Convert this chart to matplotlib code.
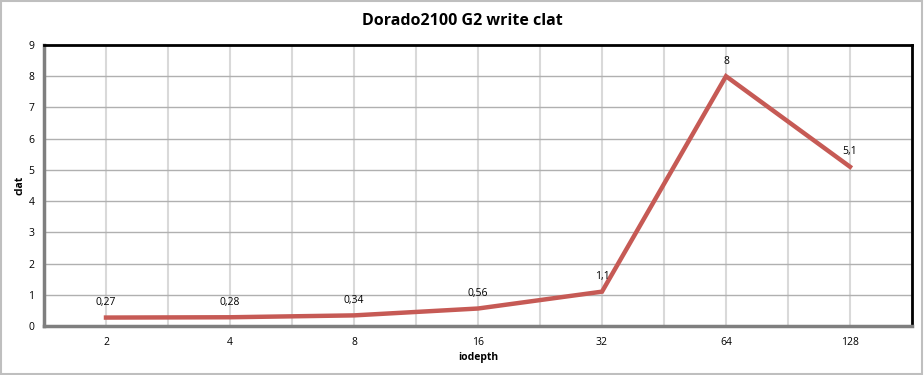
import numpy as np
import matplotlib
matplotlib.use("Agg")
import matplotlib.pyplot as plt

iodepth = ["2", "4", "8", "16", "32", "64", "128"]
clat = [0.27, 0.28, 0.34, 0.56, 1.1, 8, 5.1]
labels = ["0,27", "0,28", "0,34", "0,56", "1,1", "8", "5,1"]

plt.rcParams['font.family'] = ['Open Sans', 'DejaVu Sans']

fig = plt.figure(figsize=(9.24, 3.75), dpi=100)
ax = fig.add_axes([44/924, 49/375, 868/924, 281/375])

x = np.arange(len(iodepth))
ax.plot(x, clat, color='#c65a55', lw=3.2, solid_joinstyle='miter', zorder=3)
for xi, yi, lab in zip(x, clat, labels):
    ax.annotate(lab, (xi, yi), xytext=(0, 7), textcoords='offset points',
                ha='center', va='bottom', fontsize=7.5)

ax.set_xlim(-0.5, len(iodepth) - 0.5)
ax.set_ylim(0, 9)
ax.set_xticks(x)
ax.set_xticklabels(iodepth, fontsize=7.5)
ax.set_yticks(range(10))
ax.set_yticklabels([str(i) for i in range(10)], fontsize=7.5)
ax.xaxis.remove_overlapping_locs = False
ax.set_xticks(np.arange(-0.5, len(iodepth), 0.5), minor=True)
ax.tick_params(which='both', length=0)
ax.tick_params(axis='x', pad=8)
ax.tick_params(axis='y', pad=7)
ax.grid(axis='x', which='minor', color='#d9d9d9', lw=1.5)
ax.grid(axis='y', which='major', color='#b0b0b0', lw=1)

for s in ['top', 'right']:
    ax.spines[s].set_color('black')
    ax.spines[s].set_linewidth(2)
for s in ['left', 'bottom']:
    ax.spines[s].set_color('#7f7f7f')
    ax.spines[s].set_linewidth(2.5)

ax.set_xlabel("iodepth", fontsize=7.5, fontweight='bold', labelpad=3)
ax.set_ylabel("clat", fontsize=7.5, fontweight='bold', labelpad=2)
fig.suptitle("Dorado2100 G2 write clat", fontsize=11.5, fontweight='bold', y=0.965)

fig.patches.append(plt.Rectangle((0.001, 0.002), 0.997, 0.995, transform=fig.transFigure,
                                 fill=False, edgecolor='#bfbfbf', lw=1.5))

fig.savefig("out.png", dpi=100)
